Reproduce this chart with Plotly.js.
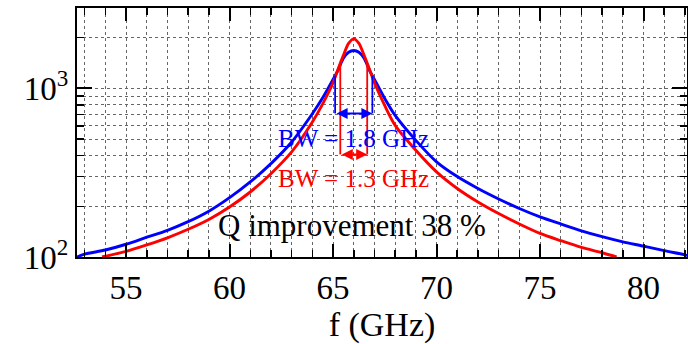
<!DOCTYPE html>
<html>
<head>
<meta charset="utf-8">
<script src="https://cdn.plot.ly/plotly-3.0.1.min.js"></script>
<style>
  html, body { margin: 0; padding: 0; background: #fff; }
  #chart { width: 688px; height: 344px; }
</style>
</head>
<body>
<div id="chart"></div>
<script>
// ---- data ----
const freqBlue = [52.63, 53, 54, 55, 56, 57, 58, 59, 60, 61, 62, 63, 64, 64.5, 65, 65.25, 65.5, 65.75, 66, 66.25, 66.5, 66.75, 67, 67.5, 68, 69, 70, 71, 72, 73, 74, 75, 76, 77, 78, 79, 80, 81, 82, 82.1];
const zBlue    = [100, 104, 110, 119, 131, 144, 162, 187, 225, 279, 358, 481, 708, 880, 1130, 1290, 1510, 1640, 1680, 1640, 1510, 1290, 1130, 870, 692, 492, 367, 300, 255, 221, 194, 173, 157, 143, 132, 123, 116, 109, 103, 102];

const freqRed = [53.84, 54, 55, 56, 57, 58, 59, 60, 61, 62, 63, 64, 64.5, 65, 65.25, 65.5, 65.75, 66, 66.25, 66.5, 66.75, 67, 67.5, 68, 69, 70, 71, 72, 73, 74, 75, 76, 77, 78, 78.7];
const zRed    = [100, 101, 108, 118, 130, 146, 167, 198, 243, 312, 420, 632, 810, 1080, 1310, 1570, 1850, 1968, 1850, 1570, 1310, 1080, 790, 604, 430, 320, 255, 212, 181, 157, 138, 125, 114, 106, 100];

const f0 = 66.0;          // resonance (GHz)
const bwBlue = 1.8;       // GHz
const bwRed = 1.3;        // GHz
const arrowLevelBlue = 711;
const arrowLevelRed = 406;
const qImprovement = 38;  // %

const xTickVals = [55, 60, 65, 70, 75, 80];
const yTickVals = [100, 1000];
const yTickText = ['10<sup>2</sup>', '10<sup>3</sup>'];
const yMinorVals = [200, 300, 400, 500, 600, 700, 800, 900, 2000, 3000];

// ---- derived ----
const peakBlue = Math.max(...zBlue);
const peakRed = Math.max(...zRed);
const FONT = 'Liberation Serif';
const BLUE = '#0000ff', RED = '#ff0000';

const traces = [
  { x: freqBlue, y: zBlue, mode: 'lines', line: { color: BLUE, width: 2.9, shape: 'spline', smoothing: 0.8 }, hoverinfo: 'skip' },
  { x: freqRed,  y: zRed,  mode: 'lines', line: { color: RED,  width: 2.9, shape: 'spline', smoothing: 0.8 }, hoverinfo: 'skip' }
];

function vline(x, yTop, yBot, color) {
  return { type: 'line', xref: 'x', yref: 'y', x0: x, x1: x, y0: yTop, y1: yBot, line: { color: color, width: 1.8 } };
}
const shapes = [
  vline(f0 - bwBlue / 2, peakBlue / Math.SQRT2, arrowLevelBlue, BLUE),
  vline(f0 + bwBlue / 2, peakBlue / Math.SQRT2, arrowLevelBlue, BLUE),
  vline(f0 - bwRed / 2, peakRed / Math.SQRT2, arrowLevelRed, RED),
  vline(f0 + bwRed / 2, peakRed / Math.SQRT2, arrowLevelRed, RED)
];

function dblArrow(bw, level, color) {
  return {
    x: f0 + bw / 2, y: Math.log10(level), ax: f0 - bw / 2, ay: Math.log10(level),
    xref: 'x', yref: 'y', axref: 'x', ayref: 'y',
    text: '', showarrow: true, arrowside: 'end+start', arrowhead: 2, arrowsize: 1.1,
    arrowwidth: 2, arrowcolor: color, standoff: 0, startstandoff: 0
  };
}

const annotations = [
  dblArrow(bwBlue, arrowLevelBlue, BLUE),
  dblArrow(bwRed, arrowLevelRed, RED),
  { x: f0, y: 0.476, xref: 'x', yref: 'paper', text: 'BW = ' + bwBlue.toFixed(1) + ' GHz', showarrow: false,
    font: { family: FONT, size: 25, color: BLUE }, xanchor: 'center', yanchor: 'middle' },
  { x: f0, y: 0.315, xref: 'x', yref: 'paper', text: 'BW = ' + bwRed.toFixed(1) + ' GHz', showarrow: false,
    font: { family: FONT, size: 25, color: RED }, xanchor: 'center', yanchor: 'middle' },
  { x: 65.93, y: 0.125, xref: 'x', yref: 'paper', text: 'Q improvement ' + qImprovement + ' %', showarrow: false,
    font: { family: FONT, size: 31, color: '#000' }, xanchor: 'center', yanchor: 'middle' }
];

const layout = {
  width: 688, height: 344,
  margin: { l: 77, r: 1, t: 8, b: 87 },
  paper_bgcolor: '#fff', plot_bgcolor: '#fff',
  showlegend: false,
  font: { family: FONT, color: '#000' },
  xaxis: {
    range: [52.63, 82.1], tickmode: 'array', tickvals: xTickVals,
    ticks: 'inside', ticklen: 13, tickwidth: 2, tickcolor: '#000',
    showline: true, linecolor: '#000', linewidth: 2, mirror: 'allticks',
    showgrid: true, gridcolor: '#666', griddash: 'dot', gridwidth: 1,
    zeroline: false,
    tickfont: { family: FONT, size: 33, color: '#000' },
    title: { text: 'f (GHz)', font: { family: FONT, size: 34, color: '#000' }, standoff: 18 },
    minor: { dtick: 1, tick0: 0, ticks: 'inside', ticklen: 7, tickwidth: 1.5, tickcolor: '#000',
             showgrid: true, gridcolor: '#666', griddash: 'dot', gridwidth: 1 }
  },
  yaxis: {
    type: 'log', range: [2, Math.log10(3000)], tickmode: 'array', tickvals: yTickVals, ticktext: yTickText,
    ticks: 'inside', ticklen: 15, tickwidth: 2, tickcolor: '#000',
    showline: true, linecolor: '#000', linewidth: 2, mirror: 'allticks',
    showgrid: true, gridcolor: '#666', griddash: 'dot', gridwidth: 1,
    zeroline: false,
    tickfont: { family: FONT, size: 33, color: '#000' },
    minor: { tickmode: 'array', tickvals: yMinorVals, ticks: 'inside', ticklen: 7, tickwidth: 1.5, tickcolor: '#000',
             showgrid: true, gridcolor: '#666', griddash: 'dot', gridwidth: 1 }
  },
  shapes: shapes,
  annotations: annotations
};

Plotly.newPlot('chart', traces, layout, { staticPlot: true, displayModeBar: false });
</script>
</body>
</html>
